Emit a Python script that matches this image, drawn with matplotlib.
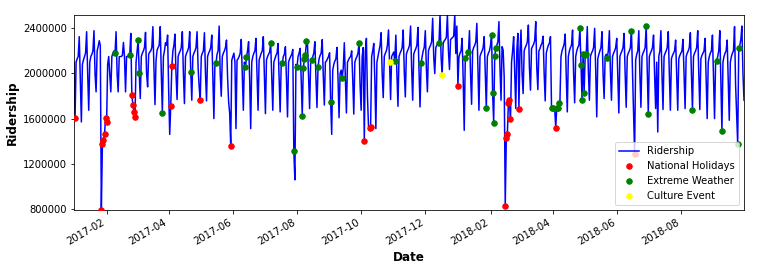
import matplotlib
matplotlib.use("Agg")
import matplotlib.pyplot as plt
import matplotlib.dates as mdates
from matplotlib.ticker import MultipleLocator
import numpy as np
import pandas as pd

start_date = "2017-01-01"

# daily ridership in thousands, one row per week (Sun .. Sat)
riders_k = [
    [2100, 1608, 2100, 2130, 2150, 2326, 1950],  # 2017-01-01
    [1570, 2080, 2120, 2150, 2180, 2370, 2000],
    [1674, 2100, 2150, 2170, 2200, 2379, 2000],
    [1837, 2200, 2240, 2290, 2250, 790, 1372],
    [1407, 1460, 1608, 1567, 2080, 2150, 1990],
    [1837, 2150, 2180, 2200, 2177, 2370, 2000],
    [1837, 2148, 2150, 2150, 2160, 2275, 2150],
    [1837, 2150, 2150, 2160, 2163, 2355, 1807],
    [1724, 1660, 1615, 2100, 2200, 2296, 2008],
    [1778, 2150, 2180, 2200, 2230, 2364, 2000],
    [1881, 2170, 2190, 2200, 2230, 2415, 2050],
    [1724, 2118, 2207, 2230, 2250, 2415, 2000],
    [1653, 2150, 2200, 2272, 2250, 2340, 1850],
    [1460, 1715, 2062, 2200, 2250, 2349, 1990],  # 2017-04-02
    [1769, 2150, 2180, 2200, 2230, 2370, 2000],
    [1733, 2150, 2180, 2200, 2230, 2370, 2017],
    [1763, 2150, 2180, 2200, 2230, 2370, 2050],
    [1880, 1769, 2150, 2180, 2200, 2361, 2000],
    [1757, 2150, 2180, 2200, 2230, 2340, 1980],
    [1600, 2100, 2089, 2170, 2200, 2420, 2000],
    [1798, 2150, 2180, 2200, 2230, 2296, 1970],
    [1750, 1650, 1360, 2118, 2150, 2180, 2100],
    [1511, 2118, 2130, 2150, 2180, 2302, 1990],  # 2017-06-04
    [1674, 2100, 2053, 2148, 2200, 2281, 1950],
    [1511, 2100, 2150, 2180, 2200, 2311, 1980],
    [1674, 2120, 2150, 2180, 2200, 2326, 1980],
    [1644, 2120, 2150, 2170, 2190, 2266, 1970],
    [1674, 2100, 2130, 2160, 2180, 2266, 1960],
    [1659, 2080, 2089, 2150, 2170, 2237, 1950],
    [1615, 2100, 2130, 2150, 2170, 2213, 1312],
    [1057, 2080, 2053, 2150, 2180, 2222, 1950],  # 2017-07-30
    [1627, 2044, 2124, 2163, 2287, 2260, 1970],
    [1689, 2100, 2118, 2150, 2180, 2281, 1970],
    [1698, 2053, 2130, 2160, 2180, 2300, 1980],
    [1720, 2100, 2110, 2130, 2150, 2183, 1751],
    [1460, 2029, 2080, 2110, 2130, 2231, 1960],
    [1608, 2000, 2030, 1964, 2050, 2272, 1960],
    [1650, 2100, 2120, 2140, 2150, 2200, 1950],
    [1640, 2100, 2130, 2150, 2180, 2266, 1900],
    [1674, 2150, 2230, 1404, 2200, 2311, 1800],  # 2017-10-01
    [1530, 1515, 1523, 2150, 2200, 2266, 1950],
    [1511, 2100, 2150, 2200, 2250, 2361, 2000],
    [1786, 2150, 2180, 2200, 2250, 2385, 2103],
    [1769, 2150, 2170, 2190, 2109, 2340, 2000],
    [1709, 2150, 2180, 2200, 2230, 2385, 2020],
    [1792, 2170, 2200, 2220, 2250, 2420, 2050],
    [1763, 2170, 2200, 2220, 2250, 2408, 2030],
    [1703, 2089, 2150, 2200, 2230, 2379, 2050],
    [1837, 2200, 2230, 2250, 2280, 2489, 2150],  # 2017-12-03
    [1999, 2230, 2250, 2260, 2266, 2518, 2150],
    [1982, 2266, 2290, 2300, 2320, 2518, 2200],
    [2035, 2300, 2310, 2320, 2330, 2518, 2177],
    [2420, 1893, 2148, 2180, 2200, 2311, 1950],
    [1496, 2133, 2150, 2160, 2186, 2379, 2000],  # 2018-01-07
    [1727, 2200, 2230, 2250, 2280, 2444, 2050],
    [1674, 2150, 2180, 2200, 2230, 2326, 2000],
    [1692, 2150, 2180, 2200, 2250, 2340, 1831],
    [1564, 2154, 2222, 2250, 2280, 2459, 2050],
    [1763, 2237, 2207, 1970, 826, 1428, 1460],
    [1739, 1769, 1600, 2100, 2200, 2326, 1990],
    [1689, 2200, 2355, 1689, 2200, 2385, 2000],
    [1822, 2200, 2230, 2250, 2280, 2429, 2050],  # 2018-03-04
    [1852, 2220, 2240, 2260, 2290, 2459, 2050],
    [1857, 2200, 2220, 2250, 2270, 2330, 2000],
    [1757, 2180, 2220, 2250, 2270, 2326, 1697],
    [1697, 1700, 1690, 1520, 1697, 1697, 1742],
    [1750, 2150, 2200, 2230, 2260, 2349, 1980],
    [1659, 2150, 2200, 2230, 2250, 2385, 2000],
    [1740, 2150, 2200, 2230, 2250, 2400, 2071],
    [1769, 2170, 1831, 2160, 2170, 2415, 2030],  # 2018-04-29
    [1763, 2150, 2180, 2200, 2230, 2400, 2030],
    [1615, 2130, 2170, 2200, 2230, 2370, 2000],
    [1778, 2150, 2170, 2133, 2200, 2379, 2020],
    [1763, 2150, 2180, 2200, 2230, 2311, 1980],
    [1650, 2150, 2180, 2200, 2230, 2355, 2000],
    [1700, 2150, 2180, 2200, 2230, 2376, 2000],
    [1650, 1289, 2118, 2170, 2200, 2379, 2000],
    [1700, 2150, 2180, 2200, 2230, 2420, 2030],
    [1644, 2150, 2180, 2200, 2230, 2340, 1990],  # 2018-07-01
    [1689, 2100, 1481, 2150, 2200, 2379, 2000],
    [1680, 2150, 2180, 2200, 2230, 2370, 2000],
    [1674, 2130, 2160, 2180, 2200, 2296, 1980],
    [1674, 2130, 2160, 2180, 2200, 2302, 1980],
    [1689, 2150, 2180, 2200, 2230, 2361, 2000],
    [1680, 2150, 2180, 2200, 2230, 2379, 2000],
    [1680, 2130, 2160, 2180, 2200, 2311, 1950],
    [1600, 2100, 2150, 2180, 2200, 2340, 1950],
    [1600, 2100, 2109, 2150, 2200, 2379, 1950],  # 2018-09-02
    [1487, 2100, 2150, 2180, 2200, 2296, 1950],
    [1585, 2100, 2150, 2180, 2200, 2415, 1900],
    [1650, 1377, 2222, 2250, 2300, 2420, 2000],
    [1763],
]

holiday_dates = [
    "2017-01-02", "2017-01-27", "2017-01-28", "2017-01-29", "2017-01-30",
    "2017-01-31", "2017-02-01", "2017-02-25", "2017-02-26", "2017-02-27",
    "2017-02-28", "2017-04-03", "2017-04-04", "2017-05-01", "2017-05-30",
    "2017-10-04", "2017-10-09", "2017-10-10", "2018-01-01", "2018-02-15",
    "2018-02-16", "2018-02-17", "2018-02-18", "2018-02-19", "2018-02-20",
    "2018-02-28", "2018-04-04", "2018-04-05", "2018-06-18",
]

weather_dates = [
    "2017-02-09", "2017-02-23", "2017-03-03", "2017-03-04", "2017-03-26",
    "2017-04-22", "2017-05-16", "2017-06-13", "2017-06-14", "2017-07-07",
    "2017-07-18", "2017-07-29", "2017-08-01", "2017-08-06", "2017-08-07",
    "2017-08-08", "2017-08-09", "2017-08-10", "2017-08-15", "2017-08-21",
    "2017-09-02", "2017-09-13", "2017-09-29", "2017-11-02", "2017-11-27",
    "2017-12-14", "2018-01-08", "2018-01-11", "2018-01-28", "2018-02-02",
    "2018-02-03", "2018-02-04", "2018-02-05", "2018-02-06", "2018-03-31",
    "2018-04-01", "2018-04-06", "2018-04-07", "2018-04-27", "2018-04-28",
    "2018-04-29", "2018-04-30", "2018-05-01", "2018-05-02", "2018-05-03",
    "2018-05-23", "2018-06-15", "2018-06-29", "2018-07-01", "2018-08-12",
    "2018-09-04", "2018-09-09", "2018-09-24", "2018-09-25",
]

culture_dates = ["2017-10-28", "2017-12-17"]

values = np.concatenate([np.array(w, dtype=float) for w in riders_k]) * 1000
dates = pd.date_range(start_date, periods=len(values), freq="D")
ridership = pd.Series(values, index=dates)

fig = plt.figure(figsize=(758 / 72, 268 / 72), dpi=72)
ax = fig.add_axes([74 / 758, 58 / 268, 670 / 758, 195 / 268])

ax.plot(ridership.index, ridership.values, color="blue", label="Ridership")

events = [
    (holiday_dates, "red", "National Holidays"),
    (weather_dates, "green", "Extreme Weather"),
    (culture_dates, "yellow", "Culture Event"),
]
for ds, col, lab in events:
    d = pd.to_datetime(ds)
    ax.scatter(d, ridership[d].values, color=col, s=30, zorder=3, label=lab)

ax.set_xlim(dates[0], dates[-1])
ax.set_ylim(values.min(), values.max())
ax.yaxis.set_major_locator(MultipleLocator(400000))
ax.ticklabel_format(axis="y", style="plain", useOffset=False)
ax.xaxis.set_major_locator(mdates.MonthLocator(bymonth=[2, 4, 6, 8, 10, 12]))
ax.xaxis.set_major_formatter(mdates.DateFormatter("%Y-%m"))
plt.setp(ax.get_xticklabels(), rotation=30, ha="right")

ax.set_xlabel("Date", fontsize=12, fontweight="bold")
ax.set_ylabel("Ridership", fontsize=12, fontweight="bold")
ax.legend(loc="lower right")

fig.savefig("out.png", dpi=72)
